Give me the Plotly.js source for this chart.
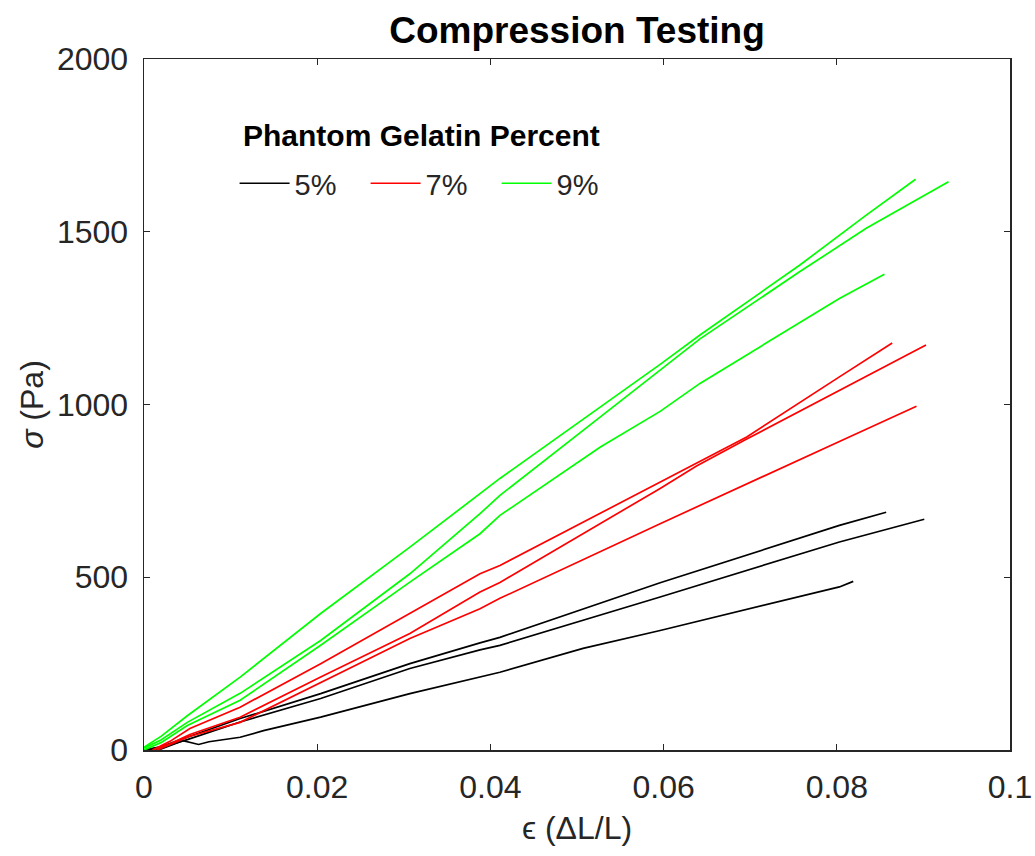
<!DOCTYPE html>
<html>
<head>
<meta charset="utf-8">
<script src="https://cdn.plot.ly/plotly-3.0.1.min.js"></script>
<style>html,body{margin:0;padding:0;background:#fff;}#chart{width:1035px;height:856px;}</style>
</head>
<body>
<div id="chart"></div>
<script>
// Strain (ΔL/L) and stress (Pa) samples
const g1Eps = [0, 0.002, 0.005, 0.0111, 0.0204, 0.0307, 0.0411, 0.0527, 0.0596, 0.0642, 0.0757, 0.0834, 0.0891];
const g1Sig = [8, 40, 99, 211, 395, 587, 786, 993, 1116, 1201, 1403, 1548, 1652];
const g2Eps = [0, 0.002, 0.005, 0.0111, 0.0204, 0.0307, 0.0388, 0.0411, 0.0527, 0.0596, 0.0642, 0.0757, 0.0834, 0.0929];
const g2Sig = [5, 30, 80, 164, 317, 510, 684, 737, 964, 1100, 1190, 1384, 1510, 1645];
const g3Eps = [0, 0.002, 0.005, 0.0111, 0.0204, 0.0307, 0.0388, 0.0411, 0.0527, 0.0596, 0.0642, 0.0757, 0.0803, 0.0855];
const g3Sig = [0, 22, 71, 144, 303, 486, 626, 679, 877, 980, 1061, 1235, 1307, 1377];

const r1Eps = [0.001, 0.003, 0.0053, 0.0111, 0.0204, 0.0307, 0.0388, 0.0411, 0.0596, 0.0638, 0.0696, 0.0803, 0.0864];
const r1Sig = [0, 25, 62, 124, 250, 395, 510, 534, 775, 829, 906, 1080, 1178];
const r2Eps = [0.001, 0.003, 0.0053, 0.0111, 0.0204, 0.0307, 0.0388, 0.0411, 0.0596, 0.0638, 0.0696, 0.0803, 0.0903];
const r2Sig = [0, 18, 45, 95, 211, 337, 457, 485, 757, 822, 900, 1041, 1172];
const r3Eps = [0.0015, 0.003, 0.0053, 0.0111, 0.0204, 0.0307, 0.0388, 0.0411, 0.0596, 0.0782, 0.0803, 0.0892];
const r3Sig = [0, 15, 40, 80, 196, 323, 409, 439, 655, 867, 893, 995];

const b1Eps = [0, 0.002, 0.005, 0.0111, 0.0204, 0.0307, 0.0388, 0.0411, 0.0596, 0.0803, 0.0857];
const b1Sig = [0, 10, 37, 91, 163, 250, 310, 326, 484, 650, 688];
const b2Eps = [0, 0.002, 0.005, 0.0111, 0.0204, 0.0307, 0.0388, 0.0411, 0.0596, 0.0803, 0.0901];
const b2Sig = [0, 8, 30, 81, 149, 236, 290, 303, 443, 602, 668];
const b3Eps = [0, 0.002, 0.0045, 0.0055, 0.0063, 0.0075, 0.0111, 0.0138, 0.0204, 0.0307, 0.0411, 0.0507, 0.0596, 0.0803, 0.0819];
const b3Sig = [0, 3, 27, 20, 16, 24, 37, 56, 95, 163, 225, 294, 346, 472, 488];

const groupNames = ['5%', '7%', '9%'];
const groupColors = ['#000000', '#ff0000', '#00ff00'];
const legendTitle = 'Phantom Gelatin Percent';

const series = [
  [b1Eps, b1Sig, 0], [b2Eps, b2Sig, 0], [b3Eps, b3Sig, 0],
  [r1Eps, r1Sig, 1], [r2Eps, r2Sig, 1], [r3Eps, r3Sig, 1],
  [g1Eps, g1Sig, 2], [g2Eps, g2Sig, 2], [g3Eps, g3Sig, 2]
];
const seen = {};
const traces = series.map(([x, y, g]) => {
  const show = !seen[g];
  seen[g] = true;
  return {
    x: x, y: y, type: 'scatter', mode: 'lines',
    name: groupNames[g], legendgroup: 'g' + g, showlegend: show,
    line: {color: groupColors[g], width: 1.7}
  };
});

const FONT = 'Liberation Sans, Arial, Helvetica, sans-serif';
const TXT = '#262626';
const layout = {
  width: 1035, height: 856,
  margin: {l: 144, r: 25, t: 59, b: 106, pad: 0},
  paper_bgcolor: '#ffffff', plot_bgcolor: '#ffffff',
  font: {family: FONT, color: TXT, size: 32},
  title: {text: '<b>Compression Testing</b>', font: {family: FONT, size: 37, color: '#000'},
          x: 0.5, xref: 'paper', y: 0.965, yref: 'container', yanchor: 'middle'},
  xaxis: {
    range: [0, 0.1], tickvals: [0, 0.02, 0.04, 0.06, 0.08, 0.1],
    ticktext: ['0', '0.02', '0.04', '0.06', '0.08', '0.1'],
    ticks: 'inside', ticklen: 6, tickwidth: 1.3, tickcolor: TXT,
    showline: true, linecolor: TXT, linewidth: 1.5, mirror: 'ticks',
    showgrid: false, zeroline: false, automargin: false,
    tickfont: {size: 32, color: TXT, family: FONT}, ticklabelstandoff: 8,
    title: {text: 'ϵ (ΔL/L)', font: {size: 32, color: TXT, family: FONT}, standoff: 12}
  },
  yaxis: {
    range: [0, 2000], tickvals: [0, 500, 1000, 1500, 2000],
    ticks: 'inside', ticklen: 6, tickwidth: 1.3, tickcolor: TXT,
    showline: true, linecolor: TXT, linewidth: 1.5, mirror: 'ticks',
    showgrid: false, zeroline: false, automargin: false,
    tickfont: {size: 32, color: TXT, family: FONT}, ticklabelstandoff: 8,
    title: {text: '<i>σ</i> (Pa)', font: {size: 32, color: TXT, family: FONT}, standoff: 3}
  },
  legend: {
    orientation: 'h', x: 0.1046, y: 0.82, xanchor: 'left', yanchor: 'middle',
    bgcolor: 'rgba(0,0,0,0)', borderwidth: 0,
    font: {size: 29, color: TXT, family: FONT},
    itemwidth: 50, entrywidth: 66, entrywidthmode: 'pixels', tracegroupgap: 0
  },
  annotations: [{
    text: '<b>' + legendTitle + '</b>', xref: 'paper', yref: 'paper',
    x: 0.321, y: 0.89, xanchor: 'center', yanchor: 'middle', showarrow: false,
    font: {size: 30, color: '#000', family: FONT}
  }],
  showlegend: true
};

Plotly.newPlot('chart', traces, layout, {displayModeBar: false, staticPlot: true});
</script>
</body>
</html>
